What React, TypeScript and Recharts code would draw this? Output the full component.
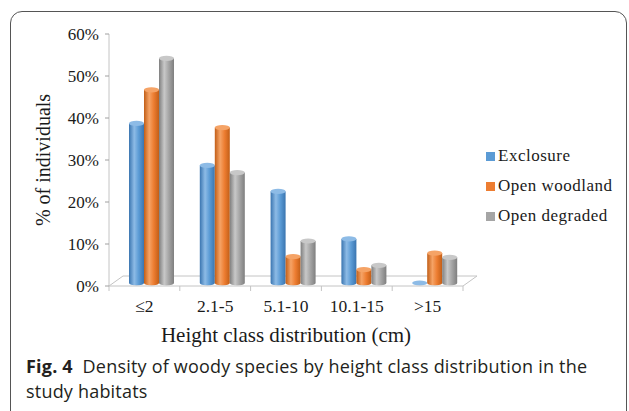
import React from "react";
import { Bar, BarChart, XAxis, YAxis } from "recharts";

const categories = ["≤2", "2.1-5", "5.1-10", "10.1-15", ">15"];
const exclosure = [38, 28, 21.8, 10.5, 0];
const openWoodland = [46, 37, 6.3, 3.2, 7.1];
const openDegraded = [53.5, 26.3, 10, 4.2, 6.1];
const yTicks = [0, 10, 20, 30, 40, 50, 60];

const series = [
  { key: "exclosure", name: "Exclosure", color: "#5b9bd5", dark: "#3a75b0", light: "#8dbbe6" },
  { key: "openWoodland", name: "Open woodland", color: "#ed7d31", dark: "#c25e17", light: "#f5a366" },
  { key: "openDegraded", name: "Open degraded", color: "#a5a5a5", dark: "#7f7f7f", light: "#c8c8c8" },
];

const data = categories.map((name, i) => ({
  name,
  exclosure: exclosure[i],
  openWoodland: openWoodland[i],
  openDegraded: openDegraded[i],
}));

// plot box
const W = 629;
const H = 411;
const LEFT = 109;
const RIGHT = 463;
const TOP = 34;
const BOTTOM = 286;
const DEPTH_X = 14;
const DEPTH_Y = 10;

const serif = "'Liberation Serif', 'Times New Roman', serif";

function Cylinder(props: any) {
  const { x, y, width, height, gradId, light } = props;
  const cx = x + DEPTH_X / 2;
  const top = y - DEPTH_Y * 0.3;
  const bottom = y + height - DEPTH_Y * 0.3;
  const rx = width / 2;
  const ry = 2.6;
  return (
    <g>
      {height > 0.5 && (
        <path
          d={`M${cx},${top} L${cx},${bottom} A${rx},${ry} 0 0 0 ${cx + width},${bottom} L${cx + width},${top} Z`}
          fill={`url(#${gradId})`}
        />
      )}
      <ellipse cx={cx + rx} cy={top} rx={rx} ry={ry} fill={light} />
    </g>
  );
}

export default function App() {
  const band = (RIGHT - LEFT) / categories.length;
  return (
    <div style={{ position: "absolute", left: 0, top: 0, width: W, height: H, overflow: "hidden", background: "#fff" }}>
      <div
        style={{
          position: "absolute",
          left: 10,
          top: 11,
          width: 615,
          height: 430,
          border: "1.5px solid #555",
          borderRadius: 12,
        }}
      />
      {/* 3D floor */}
      <svg style={{ position: "absolute", left: 0, top: 0 }} width={W} height={H}>
        <g stroke="#c4c4c4" strokeWidth={1} fill="none">
          <line x1={LEFT + DEPTH_X} y1={BOTTOM - DEPTH_Y} x2={RIGHT + DEPTH_X} y2={BOTTOM - DEPTH_Y} />
          <line x1={LEFT} y1={BOTTOM} x2={LEFT + DEPTH_X} y2={BOTTOM - DEPTH_Y} />
          <line x1={RIGHT} y1={BOTTOM} x2={RIGHT + DEPTH_X} y2={BOTTOM - DEPTH_Y} />
          {categories.concat([""]).map((_, i) => (
            <line key={i} x1={LEFT + i * band} y1={BOTTOM} x2={LEFT + i * band} y2={BOTTOM + 5} />
          ))}
        </g>
      </svg>
      <div style={{ position: "absolute", left: 0, top: 0 }}>
        <BarChart
          width={W}
          height={H}
          data={data}
          margin={{ top: TOP, right: W - RIGHT, bottom: H - BOTTOM - 40, left: LEFT - 70 }}
          barSize={15}
          barGap={0}
        >
          <defs>
            {series.map((s) => (
              <linearGradient key={s.key} id={`g-${s.key}`} x1="0" y1="0" x2="1" y2="0">
                <stop offset="0%" stopColor={s.dark} />
                <stop offset="35%" stopColor={s.light} />
                <stop offset="65%" stopColor={s.color} />
                <stop offset="100%" stopColor={s.dark} />
              </linearGradient>
            ))}
          </defs>
          <XAxis
            dataKey="name"
            height={40}
            axisLine={{ stroke: "#c4c4c4" }}
            tickLine={false}
            tickMargin={8}
            tick={{ fontFamily: serif, fontSize: 17.5, fill: "#1a1a1a" }}
            label={{
              value: "Height class distribution (cm)",
              position: "bottom",
              offset: 1,
              style: { fontFamily: serif, fontSize: 21, fill: "#1a1a1a" },
            }}
          />
          <YAxis
            width={70}
            domain={[0, 60]}
            ticks={yTicks}
            interval={0}
            tickFormatter={(v) => `${v}%`}
            axisLine={{ stroke: "#c4c4c4" }}
            tickLine={{ stroke: "#a0a0a0" }}
            tickSize={4}
            tickMargin={6}
            tick={{ fontFamily: serif, fontSize: 17, fill: "#1a1a1a" }}
            label={{
              value: "% of individuals",
              angle: -90,
              position: "insideLeft",
              offset: 4,
              style: { fontFamily: serif, fontSize: 20, fill: "#1a1a1a", textAnchor: "middle" },
            }}
          />
          {series.map((s) => (
            <Bar
              key={s.key}
              dataKey={s.key}
              name={s.name}
              fill={s.color}
              isAnimationActive={false}
              shape={(p: any) => <Cylinder {...p} gradId={`g-${s.key}`} light={s.light} />}
            />
          ))}
        </BarChart>
      </div>
      {/* legend */}
      <div style={{ position: "absolute", left: 486, top: 141, fontFamily: serif, fontSize: 17, color: "#1a1a1a" }}>
        {series.map((s) => (
          <div key={s.key} style={{ display: "flex", alignItems: "center", height: 30, letterSpacing: 0.5 }}>
            <span style={{ display: "inline-block", width: 9, height: 9, background: s.color, marginRight: 3 }} />
            {s.name}
          </div>
        ))}
      </div>
      {/* caption */}
      <div
        style={{
          position: "absolute",
          left: 26,
          top: 354,
          fontFamily: "'Open Sans', 'Noto Sans', sans-serif",
          fontSize: 18,
          lineHeight: "25px",
          letterSpacing: 0.2,
          color: "#231f20",
          whiteSpace: "nowrap",
        }}
      >
        <div>
          <b>Fig. 4</b>&nbsp;&nbsp;Density of woody species by height class distribution in the
        </div>
        <div>study habitats</div>
      </div>
    </div>
  );
}
